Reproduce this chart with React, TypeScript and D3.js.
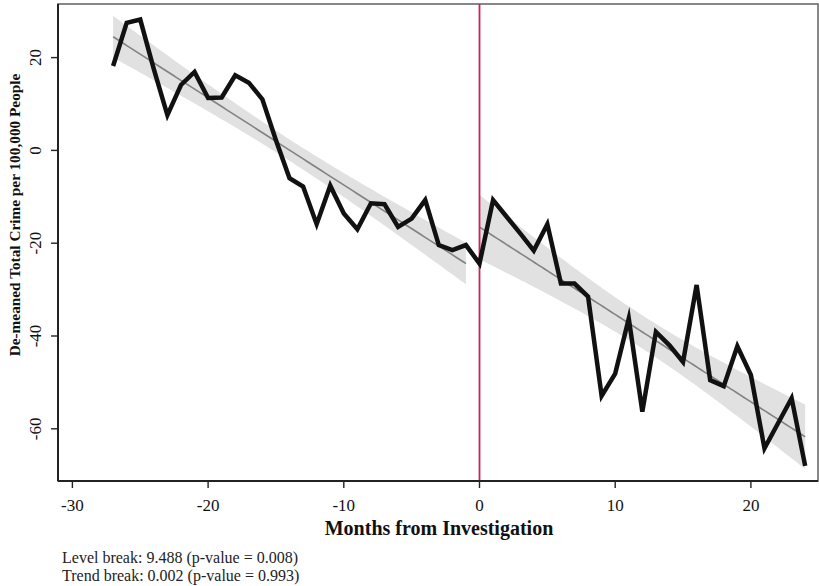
import React from "react";
import * as d3 from "d3";

// Months relative to the investigation and de-meaned crime per 100,000
const months: number[] = d3.range(-27, 25);
const crime: number[] = [
  18.2, 27.5, 28.2, 17.5, 7.6, 14.1, 16.9, 11.3, 11.4, 16.2,
  14.6, 11.0, 2.2, -6.0, -7.8, -15.9, -7.6, -13.6, -17.0, -11.4,
  -11.6, -16.5, -14.7, -10.7, -20.4, -21.5, -20.4,
  -24.4, -10.7, -14.3, -17.9, -21.6, -15.9, -28.7, -28.7, -31.5,
  -52.9, -48.1, -36.2, -56.3, -39.1, -42.0, -45.6, -29.0, -49.5,
  -50.8, -42.2, -48.4, -64.2, -58.8, -53.4, -68.0,
];
const xTicks: number[] = [-30, -20, -10, 0, 10, 20];
const yTicks: number[] = [20, 0, -20, -40, -60];
const notes: string[] = [
  "Level break: 9.488 (p-value = 0.008)",
  "Trend break: 0.002 (p-value = 0.993)",
];

const W = 819;
const H = 586;
const FRAME = { left: 58, right: 818, top: 4, bottom: 481 };
const SERIF = "'Liberation Serif', 'DejaVu Serif', serif";

type Pt = { m: number; v: number };

// Ordinary least squares fit with a 95% confidence band for the mean
function fitWithBand(pts: Pt[], tCrit: number) {
  const n = pts.length;
  const mx = d3.mean(pts, (p) => p.m) as number;
  const my = d3.mean(pts, (p) => p.v) as number;
  const sxx = d3.sum(pts, (p) => (p.m - mx) ** 2);
  const sxy = d3.sum(pts, (p) => (p.m - mx) * (p.v - my));
  const b = sxy / sxx;
  const a = my - b * mx;
  const sse = d3.sum(pts, (p) => (p.v - a - b * p.m) ** 2);
  const s = Math.sqrt(sse / (n - 2));
  const [lo, hi] = d3.extent(pts, (p) => p.m) as [number, number];
  const grid = d3.range(0, 101).map((i) => lo + ((hi - lo) * i) / 100);
  return grid.map((m) => {
    const yhat = a + b * m;
    const hw = tCrit * s * Math.sqrt(1 / n + (m - mx) ** 2 / sxx);
    return { m, yhat, lo: yhat - hw, hi: yhat + hw };
  });
}

export default function App() {
  const x = d3.scaleLinear().domain([-30, 20]).range([72.4, 750.9]);
  const y = d3.scaleLinear().domain([-60, 20]).range([428.8, 57.6]);

  const pts: Pt[] = months.map((m, i) => ({ m, v: crime[i] }));
  const pre = pts.filter((p) => p.m < 0);
  const post = pts.filter((p) => p.m >= 0);
  const fits = [fitWithBand(pre, 2.06), fitWithBand(post, 2.069)];

  const area = d3
    .area<{ m: number; lo: number; hi: number }>()
    .x((d) => x(d.m))
    .y0((d) => y(d.lo))
    .y1((d) => y(d.hi));
  const fitLine = d3
    .line<{ m: number; yhat: number }>()
    .x((d) => x(d.m))
    .y((d) => y(d.yhat));
  const dataLine = d3
    .line<Pt>()
    .x((d) => x(d.m))
    .y((d) => y(d.v));

  return (
    <svg
      width={W}
      height={H}
      style={{ position: "absolute", left: 0, top: 0, background: "#fff" }}
      fontFamily={SERIF}
    >
      <rect x={0} y={0} width={W} height={H} fill="#fff" />
      {/* plot region outline */}
      <rect
        x={FRAME.left}
        y={FRAME.top}
        width={FRAME.right - FRAME.left}
        height={FRAME.bottom - FRAME.top}
        fill="#fff"
        stroke="#6a6a6a"
        strokeWidth={1.6}
      />

      {fits.map((f, i) => (
        <g key={i}>
          <path d={area(f) || ""} fill="#dcdcdc" fillOpacity={0.85} />
          <path d={fitLine(f) || ""} fill="none" stroke="#828282" strokeWidth={1.6} />
        </g>
      ))}

      {/* investigation month */}
      <line
        x1={x(0)}
        x2={x(0)}
        y1={FRAME.top}
        y2={FRAME.bottom}
        stroke="#c9245a"
        strokeWidth={1.8}
      />

      <path
        d={dataLine(pts) || ""}
        fill="none"
        stroke="#111"
        strokeWidth={4.5}
        strokeLinejoin="miter"
        strokeMiterlimit={6}
      />

      {/* axes */}
      <line x1={FRAME.left} x2={FRAME.left} y1={FRAME.top} y2={FRAME.bottom} stroke="#222" strokeWidth={2} />
      <line x1={FRAME.left} x2={FRAME.right} y1={FRAME.bottom} y2={FRAME.bottom} stroke="#222" strokeWidth={2} />

      {xTicks.map((t) => (
        <g key={`x${t}`}>
          <line x1={x(t)} x2={x(t)} y1={FRAME.bottom} y2={FRAME.bottom + 7} stroke="#222" strokeWidth={1.4} />
          <text x={x(t)} y={511} textAnchor="middle" fontSize={17} fill="#111">
            {t}
          </text>
        </g>
      ))}
      {yTicks.map((t) => (
        <g key={`y${t}`}>
          <line x1={FRAME.left - 7} x2={FRAME.left} y1={y(t)} y2={y(t)} stroke="#222" strokeWidth={1.4} />
          <text
            transform={`translate(41,${y(t)}) rotate(-90)`}
            textAnchor="middle"
            fontSize={17}
            fill="#111"
          >
            {t}
          </text>
        </g>
      ))}

      <text x={439} y={535} textAnchor="middle" fontSize={20} fontWeight="bold" fill="#111">
        Months from Investigation
      </text>
      <text
        transform="translate(20,215) rotate(-90)"
        textAnchor="middle"
        fontSize={15.3}
        fontWeight="bold"
        fill="#111"
      >
        De-meaned Total Crime per 100,000 People
      </text>

      {notes.map((n, i) => (
        <text key={i} x={62} y={563 + i * 18} fontSize={16} fill="#222">
          {n}
        </text>
      ))}
    </svg>
  );
}
